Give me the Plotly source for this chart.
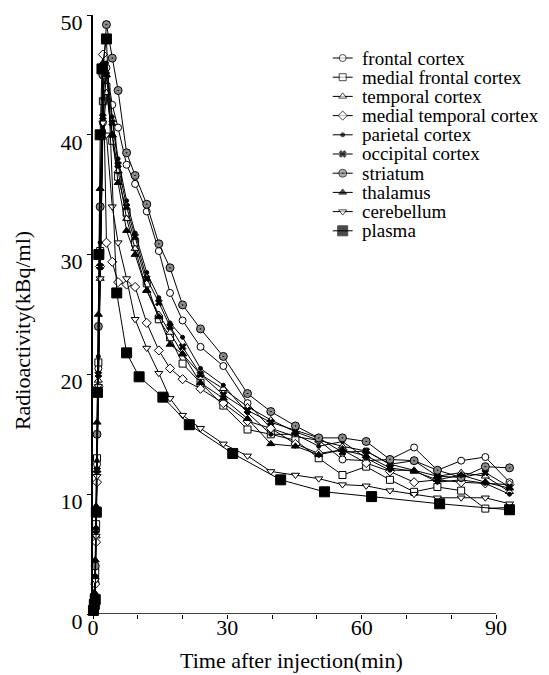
import plotly.graph_objects as go

# ---------------- data ----------------
T_BRAIN = [0.1, 0.3, 0.5, 0.7, 0.9, 1.2, 1.6, 2.2, 3.0, 4.3, 5.6, 7.5, 9.4, 12.0, 14.7,
           17.2, 20.0, 24.0, 29.1, 34.5, 39.7, 45.2, 50.4, 55.7, 61.0, 66.3, 71.7,
           76.9, 82.2, 87.6, 93.0]
T_PLASMA = [0.1, 0.3, 0.5, 0.75, 1.0, 1.3, 1.6, 2.0, 3.0, 5.3, 7.5, 10.3, 15.6, 21.5,
            31.2, 41.9, 51.7, 62.2, 77.4, 93.0]

frontal_cortex = [0.3, 1.0, 3.0, 7.0, 12.5, 20.5, 30.0, 41.0, 45.6, 42.5, 40.6, 37.5, 35.9,
                  33.6, 30.3, 26.8, 24.5, 22.3, 20.7, 17.6, 15.5, 14.8, 14.5, 12.9, 12.8,
                  12.9, 13.9, 12.0, 12.8, 13.1, 11.0]
medial_frontal_cortex = [0.3, 1.2, 3.5, 7.5, 13.0, 21.0, 30.3, 42.8, 44.0, 39.5, 36.5, 33.5,
                         31.0, 27.6, 24.6, 23.1, 20.9, 19.3, 17.4, 15.4, 15.0, 14.5, 13.0,
                         11.6, 12.3, 11.2, 10.2, 10.6, 10.3, 8.8, 8.9]
temporal_cortex = [0.2, 0.9, 2.8, 6.5, 12.0, 19.5, 28.0, 40.0, 43.5, 40.0, 37.0, 33.0, 30.5,
                   27.0, 25.0, 23.5, 21.7, 20.0, 18.8, 17.3, 16.2, 15.2, 14.5, 14.0, 13.6,
                   12.5, 12.0, 11.5, 11.8, 11.5, 10.2]
medial_temporal_cortex = [0.2, 0.8, 2.5, 6.0, 11.0, 19.0, 29.0, 46.7, 31.0, 29.4, 27.7, 27.5,
                          27.3, 24.3, 22.0, 20.5, 19.6, 18.8, 17.6, 16.1, 15.5, 14.2, 13.4,
                          13.7, 12.6, 11.9, 11.0, 11.2, 11.0, 10.9, 10.8]
parietal_cortex = [0.3, 1.1, 3.2, 7.2, 12.8, 21.5, 31.0, 43.0, 46.0, 41.5, 38.0, 34.5, 31.8,
                   28.5, 26.4, 24.3, 23.1, 20.5, 19.1, 16.8, 15.0, 15.0, 14.0, 14.4, 13.0,
                   12.0, 12.0, 11.0, 11.2, 10.9, 10.0]
occipital_cortex = [0.2, 1.0, 3.0, 7.0, 12.0, 20.0, 29.0, 41.5, 45.0, 41.0, 37.5, 34.0, 31.5,
                    28.0, 26.0, 24.0, 22.3, 20.0, 18.3, 17.0, 16.0, 15.3, 14.7, 13.5, 13.6,
                    12.5, 12.8, 11.5, 11.4, 11.8, 10.6]
striatum = [0.4, 1.5, 4.0, 8.5, 15.0, 24.0, 34.0, 45.0, 49.2, 46.4, 43.7, 38.5, 36.6, 34.2,
            30.9, 28.9, 25.8, 23.8, 21.5, 18.4, 16.9, 15.7, 14.7, 14.7, 14.4, 12.9, 12.8,
            12.0, 11.4, 12.3, 12.2]
thalamus = [0.5, 1.8, 4.5, 9.0, 16.0, 25.0, 35.5, 46.0, 45.0, 40.0, 36.0, 32.0, 30.0, 27.0,
            24.8, 22.5, 21.7, 19.3, 18.0, 16.3, 14.2, 14.0, 13.3, 13.7, 13.2, 12.2, 11.9,
            11.2, 11.6, 11.0, 10.5]
cerebellum = [0.3, 1.0, 2.8, 6.5, 11.5, 19.0, 28.0, 41.0, 40.0, 34.0, 31.0, 28.0, 24.6, 22.2,
              20.1, 18.0, 16.6, 15.5, 14.2, 13.2, 11.9, 11.6, 11.3, 10.8, 10.7, 10.3, 10.0,
              9.7, 9.7, 9.7, 9.2]
plasma = [0.3, 0.8, 1.2, 8.5, 18.5, 30.0, 40.0, 45.5, 48.0, 26.8, 21.8, 19.8, 18.1, 15.8,
          13.4, 11.2, 10.2, 9.8, 9.2, 8.7]

SERIES_NAMES = ["frontal cortex", "medial frontal cortex", "temporal cortex",
                "medial temporal cortex", "parietal cortex", "occipital cortex",
                "striatum", "thalamus", "cerebellum", "plasma"]
SERIES_X = [T_BRAIN] * 9 + [T_PLASMA]
SERIES_Y = [frontal_cortex, medial_frontal_cortex, temporal_cortex, medial_temporal_cortex,
            parietal_cortex, occipital_cortex, striatum, thalamus, cerebellum, plasma]

X_TICKS = [0, 10, 20, 30, 40, 50, 60, 70, 80, 90]
X_TICK_TEXT = ["0", "", "", "30", "", "", "60", "", "", "90"]
Y_TICKS = [0, 10, 20, 30, 40, 50]
X_TITLE = "Time after injection(min)"
Y_TITLE = "Radioactivity(kBq/ml)"

# ---------------- styles ----------------
STYLES = [
    dict(symbol="circle", size=7, color="white"),
    dict(symbol="square", size=7, color="white"),
    dict(symbol="triangle-up", size=7, color="white"),
    dict(symbol="diamond", size=7, color="white"),
    dict(symbol="circle", size=4, color="black"),
    dict(symbol="x", size=6, color="black"),
    dict(symbol="circle-dot", size=8, color="#8a8a8a"),
    dict(symbol="triangle-up", size=7, color="black"),
    dict(symbol="triangle-down", size=7, color="white"),
    dict(symbol="square", size=10, color="black"),
]

FONT = "Liberation Serif, Times New Roman, serif"

# The page body keeps its default 8px margin, so the figure is drawn 8px in
# from the window's top-left corner; size and margins compensate for that.
PAGE_PAD = 8
WIN_W, WIN_H = 549, 675
W, H = WIN_W - PAGE_PAD, WIN_H - PAGE_PAD
PLOT_LEFT, PLOT_RIGHT, PLOT_TOP, PLOT_BOTTOM = 93, 514.5, 15, 614  # window pixels
ML = PLOT_LEFT - PAGE_PAD
MT = PLOT_TOP - PAGE_PAD
MR = WIN_W - PLOT_RIGHT
MB = WIN_H - PLOT_BOTTOM

fig = go.Figure()
for name, xs, ys, st in zip(SERIES_NAMES, SERIES_X, SERIES_Y, STYLES):
    fig.add_trace(go.Scatter(
        x=xs, y=ys, name=name, mode="lines+markers", showlegend=False,
        line=dict(color="black", width=1),
        marker=dict(symbol=st["symbol"], size=st["size"], color=st["color"],
                    line=dict(color="black", width=1)),
        cliponaxis=False,
    ))

plot_w = PLOT_RIGHT - PLOT_LEFT
plot_h = PLOT_BOTTOM - PLOT_TOP


def win_to_paper_x(px):
    return (px - PLOT_LEFT) / plot_w


def win_to_paper_y(py):
    return (PLOT_BOTTOM - py) / plot_h


# ---------------- custom legend (compact rows like the original) ----------------
LEG_ROW0 = 58
LEG_ROW_GAP = 19.2
for i, (name, st) in enumerate(zip(SERIES_NAMES, STYLES)):
    yy = win_to_paper_y(LEG_ROW0 + i * LEG_ROW_GAP)
    fig.add_trace(go.Scatter(
        x=[win_to_paper_x(333), win_to_paper_x(343), win_to_paper_x(353)],
        y=[yy, yy, yy], xaxis="x2", yaxis="y2", mode="lines+markers",
        showlegend=False, hoverinfo="skip",
        line=dict(color="black", width=1),
        marker=dict(symbol=st["symbol"], size=[0, st["size"], 0], color=st["color"],
                    line=dict(color="black", width=[0, 1, 0])),
        cliponaxis=False,
    ))
    fig.add_annotation(x=win_to_paper_x(360), y=yy, xref="paper", yref="paper",
                       text=name, showarrow=False, xanchor="left", yanchor="middle",
                       font=dict(family=FONT, size=19, color="black"))

# axis titles placed like the original
fig.add_annotation(x=win_to_paper_x(22), y=win_to_paper_y(331), xref="paper", yref="paper",
                   text=Y_TITLE, textangle=-90, showarrow=False,
                   xanchor="center", yanchor="middle",
                   font=dict(family=FONT, size=22, color="black"))
fig.add_annotation(x=win_to_paper_x(292), y=win_to_paper_y(660), xref="paper", yref="paper",
                   text=X_TITLE, showarrow=False, xanchor="center", yanchor="middle",
                   font=dict(family=FONT, size=22, color="black"))

# x-axis line only up to 90 min
fig.add_shape(type="line", xref="x", yref="y", x0=0, x1=90, y0=0, y1=0,
              line=dict(color="black", width=1.5))

fig.update_layout(
    width=W, height=H,
    margin=dict(l=ML, r=MR, t=MT, b=MB, autoexpand=False),
    paper_bgcolor="white", plot_bgcolor="white",
    font=dict(family=FONT, color="black"),
    showlegend=False,
    xaxis=dict(range=[0, 94], tickvals=X_TICKS, ticktext=X_TICK_TEXT,
               ticks="outside", ticklen=4, tickcolor="black", tickwidth=1,
               showline=False, showgrid=False, zeroline=False, automargin=False,
               tickfont=dict(family=FONT, size=22), ticklabelstandoff=-10),
    yaxis=dict(range=[0, 50], tickvals=Y_TICKS, ticks="outside", ticklen=4,
               tickcolor="black", tickwidth=1, showline=True, linecolor="black",
               linewidth=2, showgrid=False, zeroline=False, automargin=False,
               tickfont=dict(family=FONT, size=22), ticklabelshift=7,
               ticklabeloverflow="allow"),
    xaxis2=dict(overlaying="x", range=[0, 1], visible=False, fixedrange=True),
    yaxis2=dict(overlaying="y", range=[0, 1], visible=False, fixedrange=True),
)

fig.write_html("out.html")
